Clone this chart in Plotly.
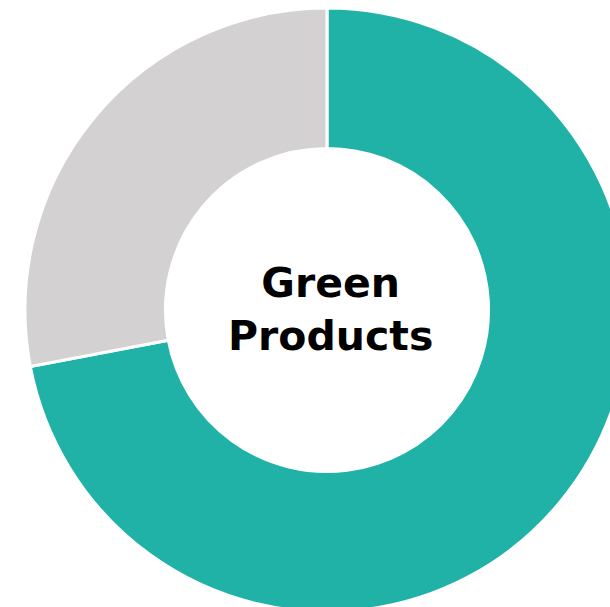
import plotly.graph_objects as go

labels = ["Green Products", "Other"]
values = [72, 28]
colors = ["#20B2A6", "#D3D1D2"]
center_text = "<b>Green<br>Products</b>"

W, H = 656, 620
R = 302
cx, cy = 327, 310

fig = go.Figure(go.Pie(
    labels=labels,
    values=values,
    hole=0.535,
    sort=False,
    direction="clockwise",
    rotation=0,
    marker=dict(colors=colors, line=dict(color="white", width=3)),
    textinfo="none",
    hoverinfo="label+percent",
    showlegend=False,
))

fig.add_annotation(
    text=center_text, x=0.5, y=0.5, xref="paper", yref="paper",
    xshift=3, yshift=1,
    showarrow=False, font=dict(family="DejaVu Sans", size=41, color="black"),
    align="center",
)

fig.update_layout(
    width=W, height=H,
    margin=dict(l=cx - R, r=W - cx - R, t=cy - R, b=H - cy - R, pad=0),
    paper_bgcolor="white", plot_bgcolor="white",
)

fig.write_html("out.html", post_script="document.body.style.overflow='hidden';document.body.style.margin='0';")
